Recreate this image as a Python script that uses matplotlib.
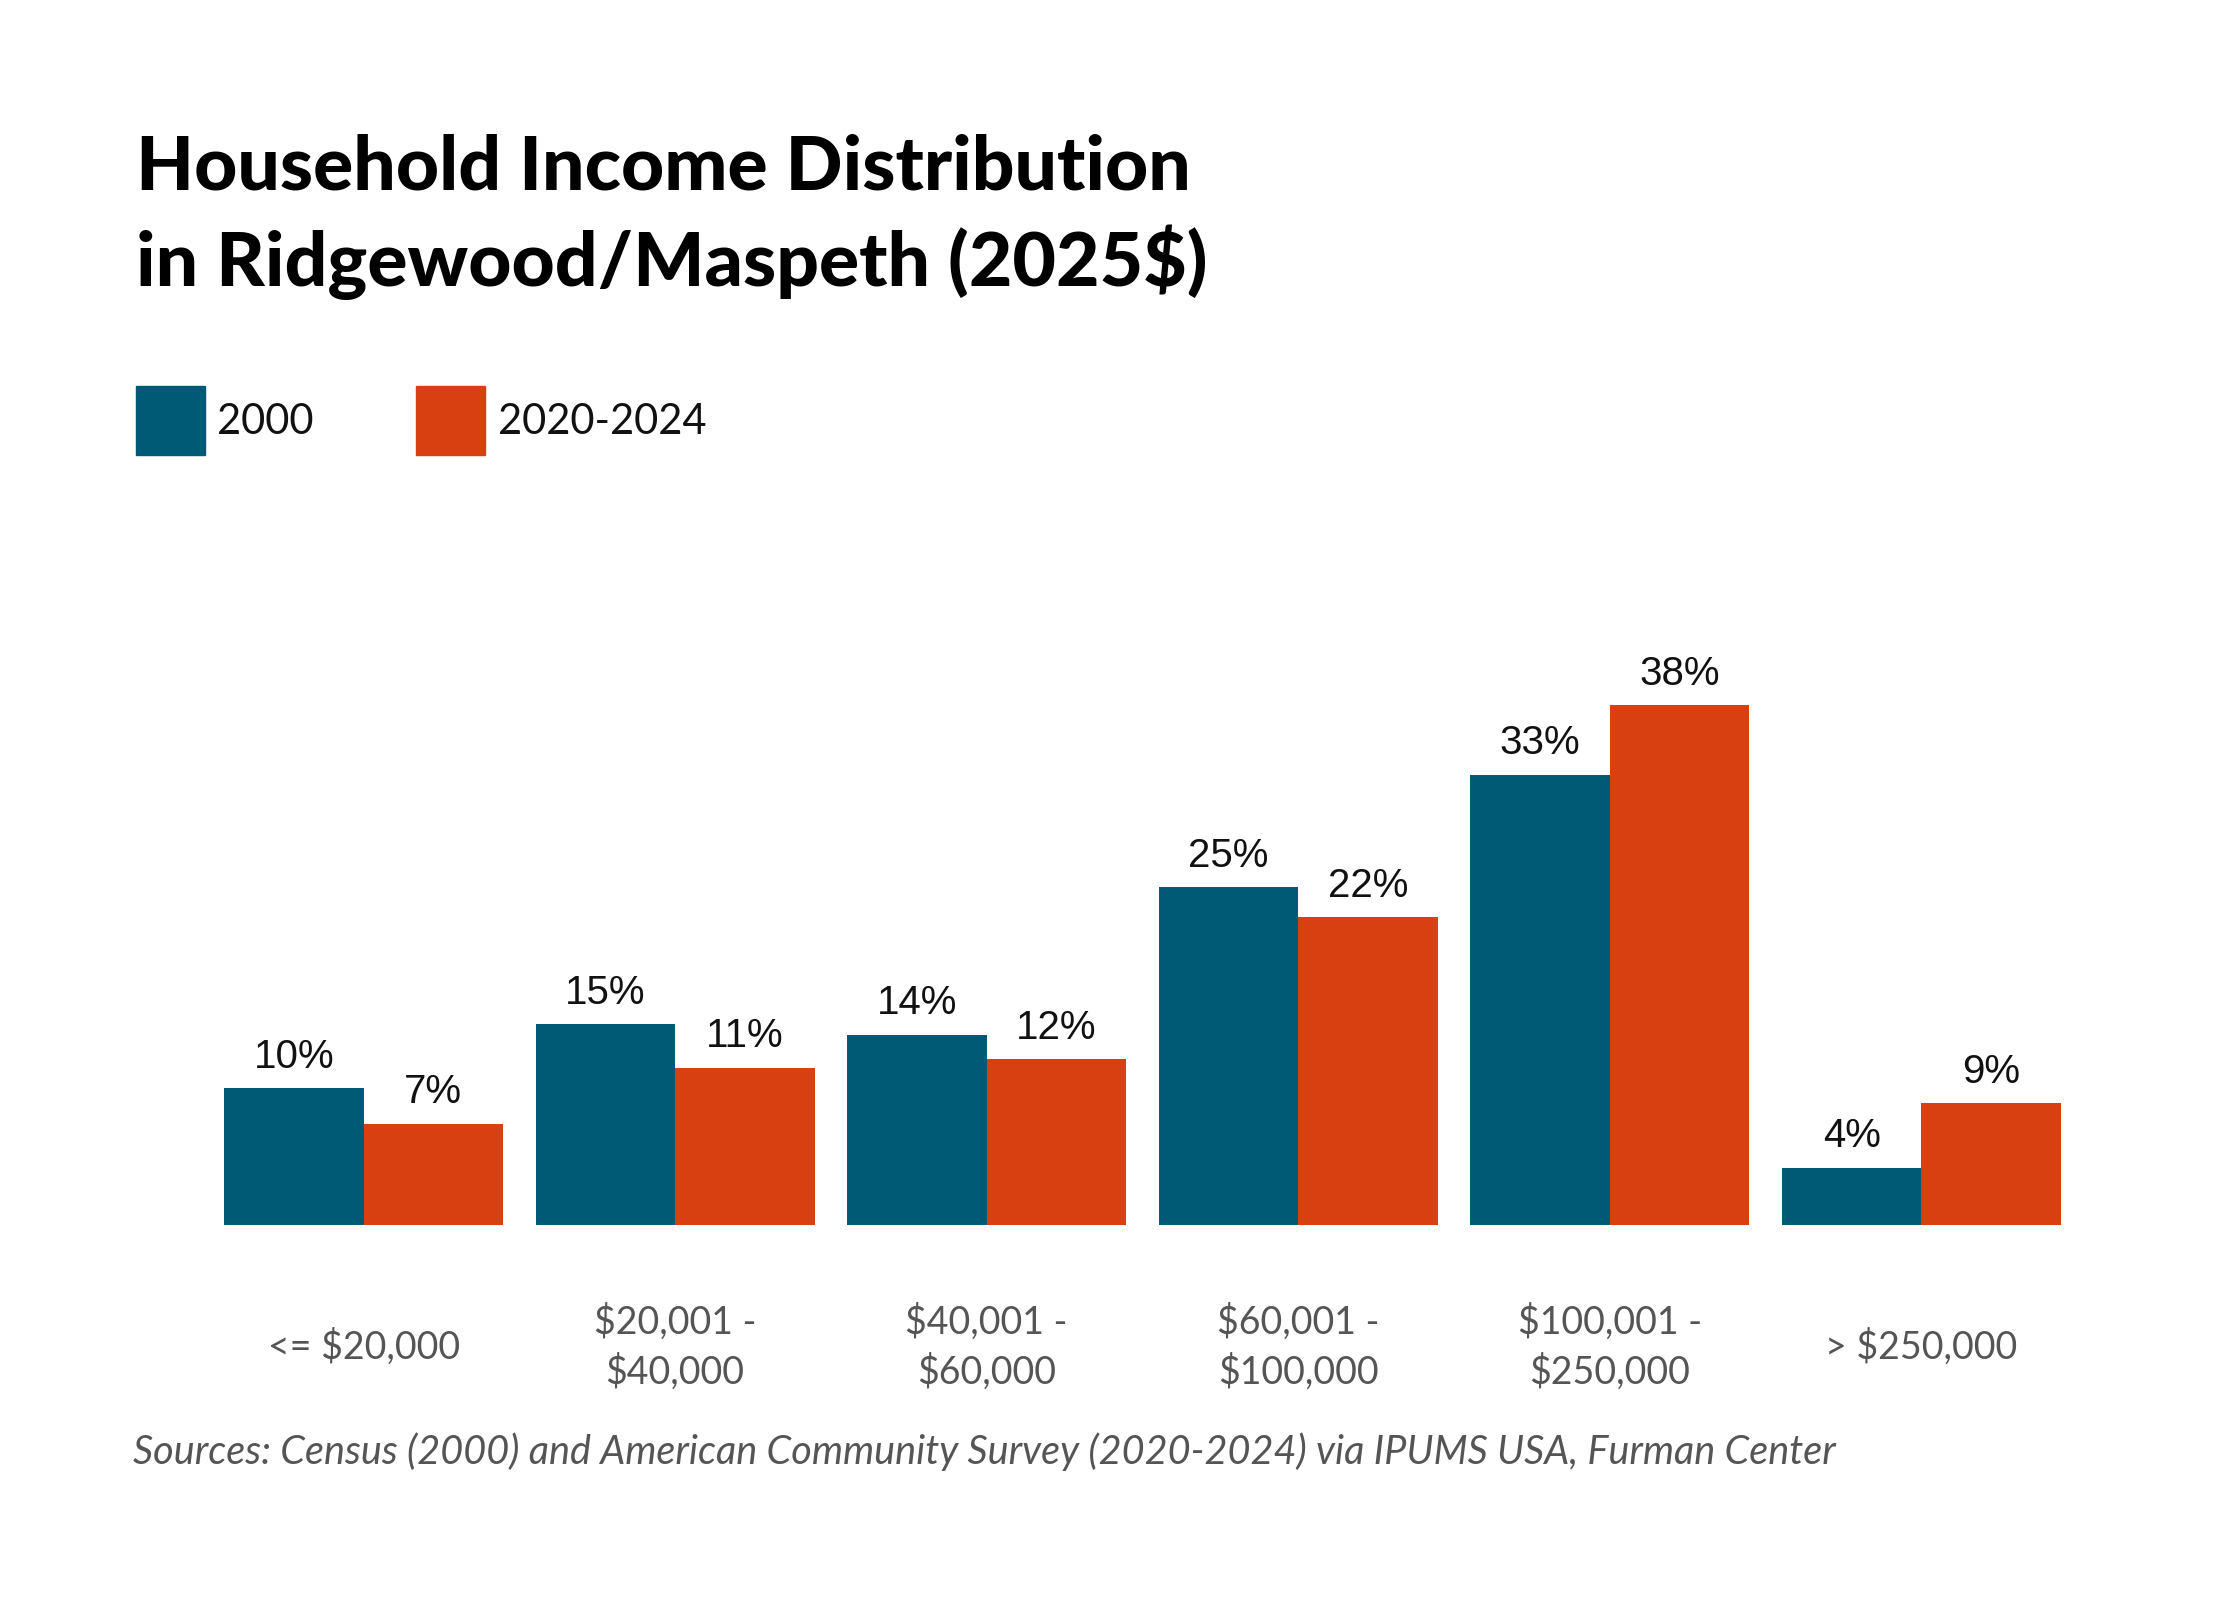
import matplotlib
matplotlib.use("Agg")
import matplotlib.pyplot as plt
from matplotlib.patches import Rectangle

categories = ["<= $20,000", "$20,001 -\n$40,000", "$40,001 -\n$60,000",
              "$60,001 -\n$100,000", "$100,001 -\n$250,000", "> $250,000"]
series_names = ["2000", "2020-2024"]
values_2000 = [10.0, 14.7, 13.9, 24.7, 32.9, 4.2]
values_2024 = [7.4, 11.5, 12.1, 22.5, 38.0, 8.9]
labels_2000 = ["10%", "15%", "14%", "25%", "33%", "4%"]
labels_2024 = ["7%", "11%", "12%", "22%", "38%", "9%"]

title_lines = ["Household Income Distribution", "in Ridgewood/Maspeth (2025$)"]
source = "Sources: Census (2000) and American Community Survey (2020-2024) via IPUMS USA, Furman Center"

c2000 = "#005a75"
c2024 = "#d84012"

W, H = 2240, 1600
fig = plt.figure(figsize=(W / 100, H / 100), dpi=100)
fig.patch.set_facecolor("white")

# axes: bars from x=224 to 2061 px, baseline at y=1225 px
left_px, right_px = 224, 2061
base_px, top_px = 1225, 625
ax = fig.add_axes([left_px / W, (H - base_px) / H,
                   (right_px - left_px) / W, (base_px - top_px) / H])

bw = 0.448
x = list(range(len(categories)))
ax.bar([i - bw / 2 for i in x], values_2000, width=bw, color=c2000)
ax.bar([i + bw / 2 for i in x], values_2024, width=bw, color=c2024)

ax.set_xlim(-bw, len(categories) - 1 + bw)
ax.set_ylim(0, 38.0 * 600 / 520)

for i in x:
    ax.text(i - bw / 2, values_2000[i] + 0.9, labels_2000[i], ha="center", va="bottom",
            fontsize=29, family="Liberation Sans", color="#111111")
    ax.text(i + bw / 2, values_2024[i] + 0.9, labels_2024[i], ha="center", va="bottom",
            fontsize=29, family="Liberation Sans", color="#111111")

ax.set_xticks(x)
ax.set_xticklabels(categories, fontsize=27, family="Lato", color="#555555",
                   linespacing=1.42)
for t in ax.get_xticklabels():
    t.set_verticalalignment("center")
ax.tick_params(axis="x", length=0, pad=88)
ax.set_yticks([])
for s in ax.spines.values():
    s.set_visible(False)

# title
fig.text(136 / W, 1 - 189 / H, title_lines[0], fontsize=54, fontweight="black",
         family="Lato", color="#000000", va="baseline", ha="left")
fig.text(136 / W, 1 - 286 / H, title_lines[1], fontsize=54, fontweight="black",
         family="Lato", color="#000000", va="baseline", ha="left")

# legend
for (lx, tx, name, col) in [(136, 217, series_names[0], c2000), (416, 498, series_names[1], c2024)]:
    fig.patches.append(Rectangle((lx / W, 1 - 455 / H), 69 / W, 69 / H,
                                 transform=fig.transFigure, color=col))
    fig.text(tx / W, 1 - 422 / H, name, fontsize=30, family="Lato",
             color="#111111", va="center", ha="left")

fig.text(133 / W, 1 - 1452 / H, source, fontsize=28.5, family="Lato", style="italic",
         color="#555555", va="center", ha="left")

fig.savefig("out.png", dpi=100, facecolor="white")
